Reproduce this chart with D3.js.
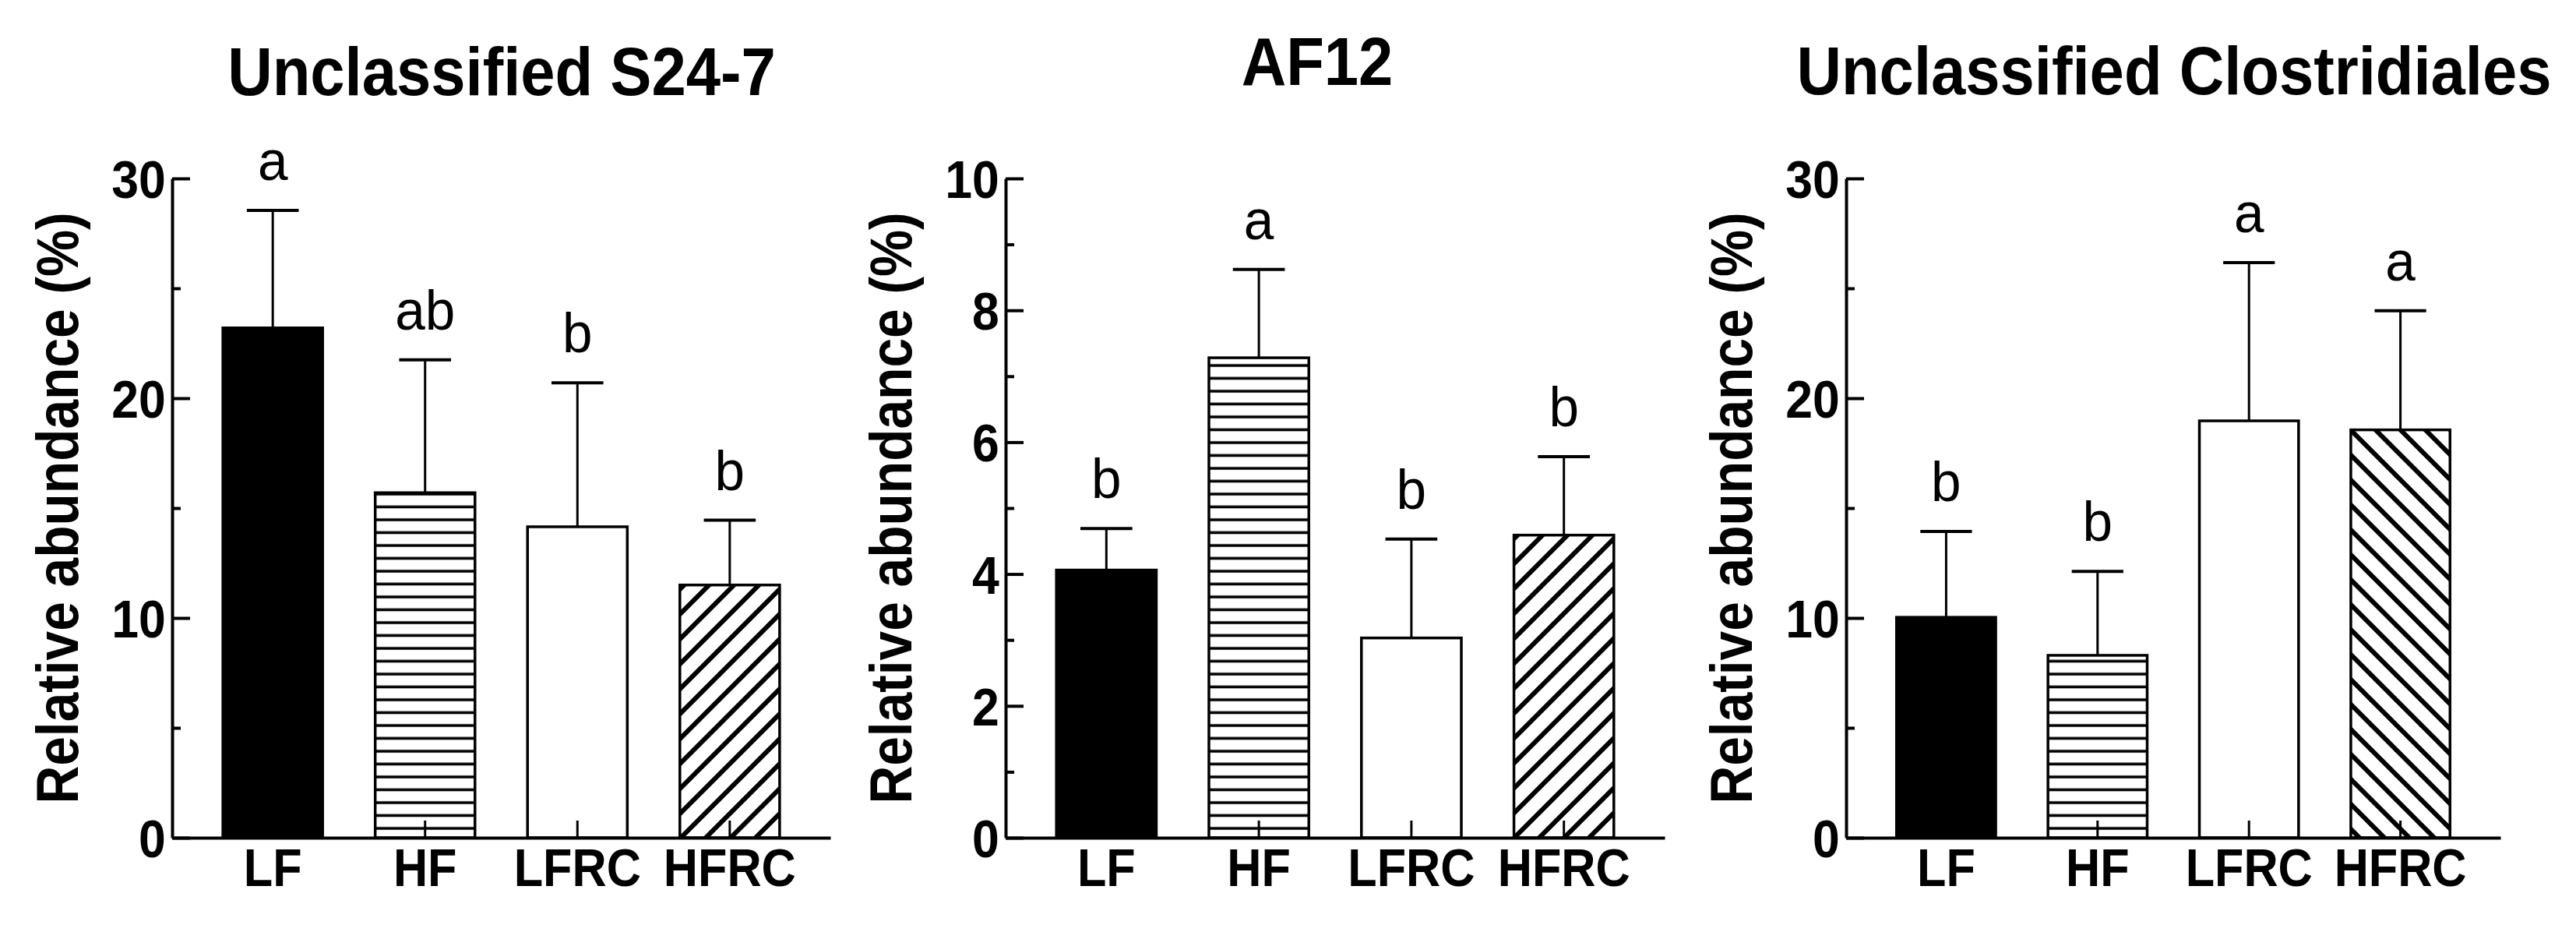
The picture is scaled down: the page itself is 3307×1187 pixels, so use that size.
<!DOCTYPE html>
<html>
<head>
<meta charset="utf-8">
<script src="https://cdn.jsdelivr.net/npm/d3@7"></script>
<style>
  html, body { margin: 0; padding: 0; background: #fff; }
  svg { display: block; }
</style>
</head>
<body>
<svg id="chart" width="3307" height="1187"></svg>
<script>
// ---------------- DATA ----------------
const categories = ["LF", "HF", "LFRC", "HFRC"];
const titles = ["Unclassified S24-7", "AF12", "Unclassified Clostridiales"];
const yLabel = "Relative abundance (%)";

// panel 1: Unclassified S24-7
const s24Mean = [23.2, 15.7, 14.15, 11.5];
const s24Sd   = [5.35, 6.05, 6.55, 2.95];
const s24Letters = ["a", "ab", "b", "b"];
const s24Ticks = [0, 10, 20, 30];
const s24Minor = [5, 15, 25];

// panel 2: AF12
const af12Mean = [4.06, 7.28, 3.03, 4.59];
const af12Sd   = [0.63, 1.34, 1.5, 1.19];
const af12Letters = ["b", "a", "b", "b"];
const af12Ticks = [0, 2, 4, 6, 8, 10];
const af12Minor = [1, 3, 5, 7, 9];

// panel 3: Unclassified Clostridiales
const closMean = [10.03, 8.3, 18.97, 18.56];
const closSd   = [3.91, 3.82, 7.2, 5.42];
const closLetters = ["b", "b", "a", "a"];
const closTicks = [0, 10, 20, 30];
const closMinor = [5, 15, 25];

const yMax = [30, 10, 30];

// ---------------- LAYOUT (not data) ----------------
const panels = [
  { mean: s24Mean, sd: s24Sd, letters: s24Letters, ticks: s24Ticks, minor: s24Minor, hatch: "diagR" },
  { mean: af12Mean, sd: af12Sd, letters: af12Letters, ticks: af12Ticks, minor: af12Minor, hatch: "diagR" },
  { mean: closMean, sd: closSd, letters: closLetters, ticks: closTicks, minor: closMinor, hatch: "diagL" }
];
const axisX = [221, 1291, 2370];
const axisLen = [845, 846, 840];
const titleX = [644, 1691, 2791];
const titleY = [122, 109, 121];
const yTop = 229, yBottom = 1075;
const FONT = "'Liberation Sans', Arial, Helvetica, sans-serif";

const svg = d3.select("#chart");
svg.append("rect").attr("width", 3307).attr("height", 1187).attr("fill", "#fff");

// ---------------- PATTERNS ----------------
const defs = svg.append("defs");
const hp = defs.append("pattern").attr("id", "hlines")
  .attr("patternUnits", "userSpaceOnUse").attr("width", 20).attr("height", 16.5);
hp.append("rect").attr("width", 20).attr("height", 16.5).attr("fill", "#fff");
hp.append("line").attr("x1", 0).attr("x2", 20).attr("y1", 7).attr("y2", 7)
  .attr("stroke", "#000").attr("stroke-width", 3.6);

function diag(id, dir) {
  const s = 32;
  const p = defs.append("pattern").attr("id", id)
    .attr("patternUnits", "userSpaceOnUse").attr("width", s).attr("height", s);
  p.append("rect").attr("width", s).attr("height", s).attr("fill", "#fff");
  const segs = dir > 0
    ? [[0, s, s, 0], [-s / 2, s / 2, s / 2, -s / 2], [s / 2, s * 1.5, s * 1.5, s / 2]]
    : [[0, 0, s, s], [-s / 2, s / 2, s / 2, s * 1.5], [s / 2, -s / 2, s * 1.5, s / 2]];
  segs.forEach(d => p.append("line")
    .attr("x1", d[0]).attr("y1", d[1]).attr("x2", d[2]).attr("y2", d[3])
    .attr("stroke", "#000").attr("stroke-width", 6));
}
diag("diagR", 1);
diag("diagL", -1);

function fillFor(i, hatch) {
  if (i === 0) return "#000";
  if (i === 1) return "url(#hlines)";
  if (i === 2) return "#fff";
  return `url(#${hatch})`;
}

// ---------------- PANELS ----------------
panels.forEach((P, k) => {
  const g = svg.append("g").attr("transform", `translate(${axisX[k]},0)`);

  const x = d3.scaleBand().domain(categories).range([0, axisLen[k]])
    .paddingInner(0.345).paddingOuter(0.333);
  const y = d3.scaleLinear().domain([0, yMax[k]]).range([yBottom, yTop]);

  const rows = categories.map((c, i) => ({ c, i, m: P.mean[i], sd: P.sd[i], l: P.letters[i] }));

  // bars
  g.selectAll("rect.bar").data(rows).enter().append("rect")
    .attr("class", "bar")
    .attr("x", d => x(d.c))
    .attr("width", x.bandwidth())
    .attr("y", d => y(d.m))
    .attr("height", d => y(0) - y(d.m))
    .attr("fill", d => fillFor(d.i, P.hatch))
    .attr("stroke", "#000").attr("stroke-width", 3.5);

  // error bars (upper only)
  const cx = d => x(d.c) + x.bandwidth() / 2;
  g.selectAll("line.err").data(rows).enter().append("line")
    .attr("x1", cx).attr("x2", cx)
    .attr("y1", d => y(d.m)).attr("y2", d => y(d.m + d.sd))
    .attr("stroke", "#000").attr("stroke-width", 3);
  g.selectAll("line.cap").data(rows).enter().append("line")
    .attr("x1", d => cx(d) - x.bandwidth() * 0.26).attr("x2", d => cx(d) + x.bandwidth() * 0.26)
    .attr("y1", d => y(d.m + d.sd)).attr("y2", d => y(d.m + d.sd))
    .attr("stroke", "#000").attr("stroke-width", 4);

  // significance letters
  g.selectAll("text.sig").data(rows).enter().append("text")
    .attr("transform", d => `translate(${cx(d)},${y(d.m + d.sd) - 39}) scale(0.95,1)`)
    .attr("text-anchor", "middle")
    .style("font-family", FONT).style("font-size", "73px").style("font-weight", "normal")
    .text(d => d.l);

  // y axis (ticks pointing inward)
  const yAxis = d3.axisLeft(y).tickValues(P.ticks).tickSizeInner(-23).tickSizeOuter(0).tickPadding(9)
    .tickFormat(d3.format("d"));
  const ya = g.append("g").call(yAxis);
  ya.select(".domain").attr("stroke-width", 4).attr("stroke", "#000");
  ya.selectAll(".tick line").attr("stroke-width", 4).attr("stroke", "#000");
  ya.selectAll(".tick text").attr("fill", "#000").attr("dy", "0.36em")
    .attr("transform", "scale(0.92,1)")
    .style("font-family", FONT).style("font-size", "68px").style("font-weight", "bold");

  const yMinorAxis = d3.axisLeft(y).tickValues(P.minor).tickSizeInner(-11).tickSizeOuter(0).tickFormat("");
  const ym = g.append("g").call(yMinorAxis);
  ym.select(".domain").remove();
  ym.selectAll(".tick line").attr("stroke-width", 4).attr("stroke", "#000");

  // x axis (ticks pointing up)
  const xAxis = d3.axisBottom(x).tickSizeInner(-22).tickSizeOuter(0).tickPadding(14);
  const xa = g.append("g").attr("transform", `translate(0,${yBottom})`).call(xAxis);
  xa.select(".domain").attr("stroke-width", 4).attr("stroke", "#000");
  xa.selectAll(".tick line").attr("stroke-width", 3).attr("stroke", "#000");
  xa.selectAll(".tick text").attr("fill", "#000")
    .attr("transform", "scale(0.9,1)")
    .style("font-family", FONT).style("font-size", "68px").style("font-weight", "bold");

  // y label
  g.append("text")
    .attr("transform", `translate(-121,${(yTop + yBottom) / 2}) rotate(-90) scale(0.89,1)`)
    .attr("text-anchor", "middle")
    .style("font-family", FONT).style("font-size", "76px").style("font-weight", "bold")
    .text(yLabel);

  // title
  svg.append("text")
    .attr("transform", `translate(${titleX[k]},${titleY[k]}) scale(0.905,1)`)
    .attr("text-anchor", "middle")
    .style("font-family", FONT).style("font-size", "88px").style("font-weight", "bold")
    .text(titles[k]);
});
</script>
</body>
</html>
